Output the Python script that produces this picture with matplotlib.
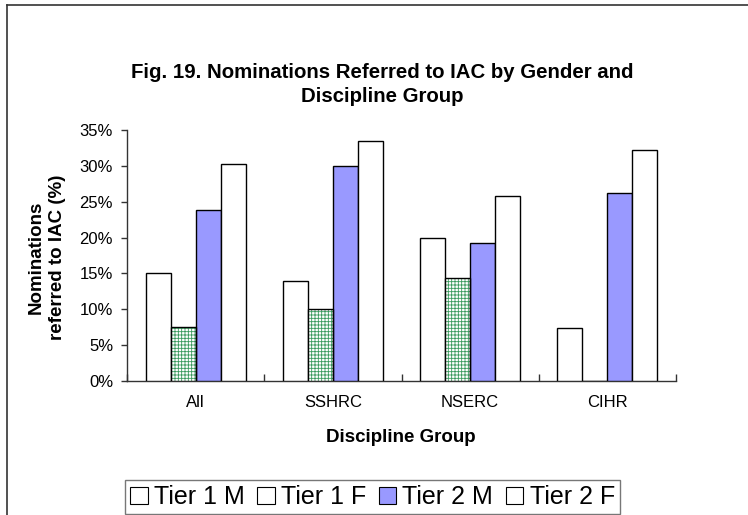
import matplotlib
matplotlib.use("Agg")
import matplotlib.pyplot as plt
import numpy as np
from matplotlib.patches import Patch
from matplotlib.lines import Line2D

plt.rcParams['font.family'] = ['Liberation Sans', 'DejaVu Sans']
plt.rcParams['hatch.linewidth'] = 0.6

categories = ["All", "SSHRC", "NSERC", "CIHR"]
series_names = ["Tier 1 M", "Tier 1 F", "Tier 2 M", "Tier 2 F"]
tier1_m = [15.0, 14.0, 20.0, 7.4]
tier1_f = [7.5, 10.0, 14.4, 0.0]
tier2_m = [23.8, 30.0, 19.3, 26.2]
tier2_f = [30.2, 33.4, 25.8, 32.2]
yticks = [0, 5, 10, 15, 20, 25, 30, 35]

W, H = 748, 515
fig = plt.figure(figsize=(W / 100, H / 100), dpi=100)
ax = fig.add_axes([127 / W, 1 - 381 / H, (676 - 127) / W, (381 - 130) / H])

x = np.arange(len(categories))
bw = 0.182
offsets = np.array([-1.5, -0.5, 0.5, 1.5]) * bw

ax.bar(x + offsets[0], tier1_m, bw, color='white', edgecolor='black', linewidth=1.0, zorder=3)
# hatched green grid for Tier 1 F
ax.bar(x + offsets[1], tier1_f, bw, color='white', edgecolor='#3a9a5e', hatch='+++++', linewidth=0, zorder=3)
ax.bar(x + offsets[1], tier1_f, bw, fill=False, edgecolor='black', linewidth=1.0, zorder=4)
ax.bar(x + offsets[2], tier2_m, bw, color='#9999ff', edgecolor='black', linewidth=1.0, zorder=3)
ax.bar(x + offsets[3], tier2_f, bw, color='white', edgecolor='black', linewidth=1.0, zorder=3)

ax.set_xlim(-0.5, len(categories) - 0.5)
ax.set_ylim(0, 35)
ax.set_yticks(yticks)
ax.set_yticklabels([f"{v}%" for v in yticks], fontsize=12)
ax.set_xticks(x)
ax.set_xticklabels(categories, fontsize=12)
ax.set_xticks(np.arange(len(categories) + 1) - 0.5, minor=True)
ax.tick_params(axis='x', which='major', length=0, pad=10)
ax.tick_params(axis='x', which='minor', length=5, direction='in', width=1, color='#333333')
ax.tick_params(axis='y', which='major', length=4, direction='out', width=1, color='#333333', pad=6)
for s in ['top', 'right']:
    ax.spines[s].set_visible(False)
for s in ['left', 'bottom']:
    ax.spines[s].set_color('#333333')
    ax.spines[s].set_linewidth(1.0)

fig.text(382 / W, 1 - 72 / H, "Fig. 19. Nominations Referred to IAC by Gender and",
         ha='center', va='center', fontsize=14.7, fontweight='bold')
fig.text(382 / W, 1 - 97 / H, "Discipline Group",
         ha='center', va='center', fontsize=14.7, fontweight='bold')
fig.text(47 / W, 1 - 257 / H, "Nominations\nreferred to IAC (%)", rotation=90,
         ha='center', va='center', fontsize=13.5, fontweight='bold', linespacing=1.3)
fig.text(401 / W, 1 - 438 / H, "Discipline Group", ha='center', va='center',
         fontsize=13.5, fontweight='bold')

handles = [Patch(facecolor='white', edgecolor='black', linewidth=0.8),
           Patch(facecolor='white', edgecolor='black', linewidth=0.8),
           Patch(facecolor='#9999ff', edgecolor='black', linewidth=0.8),
           Patch(facecolor='white', edgecolor='black', linewidth=0.8)]
leg = fig.legend(handles, series_names, loc='center', bbox_to_anchor=(372.5 / W, 1 - 497 / H),
                 ncol=4, fontsize=18, frameon=True, fancybox=False, handlelength=0.7,
                 handleheight=0.7, handletextpad=0.25, columnspacing=0.5, borderpad=0.2,
                 borderaxespad=0)
leg.get_frame().set_edgecolor('#555555')
leg.get_frame().set_linewidth(1.0)

# figure border (left and top visible)
fig.add_artist(Line2D([7 / W, 7 / W], [0, 1 - 5 / H], transform=fig.transFigure,
                      color='#333333', linewidth=1.2))
fig.add_artist(Line2D([7 / W, 1], [1 - 5 / H, 1 - 5 / H], transform=fig.transFigure,
                      color='#333333', linewidth=1.2))

fig.savefig("out.png", dpi=100)
